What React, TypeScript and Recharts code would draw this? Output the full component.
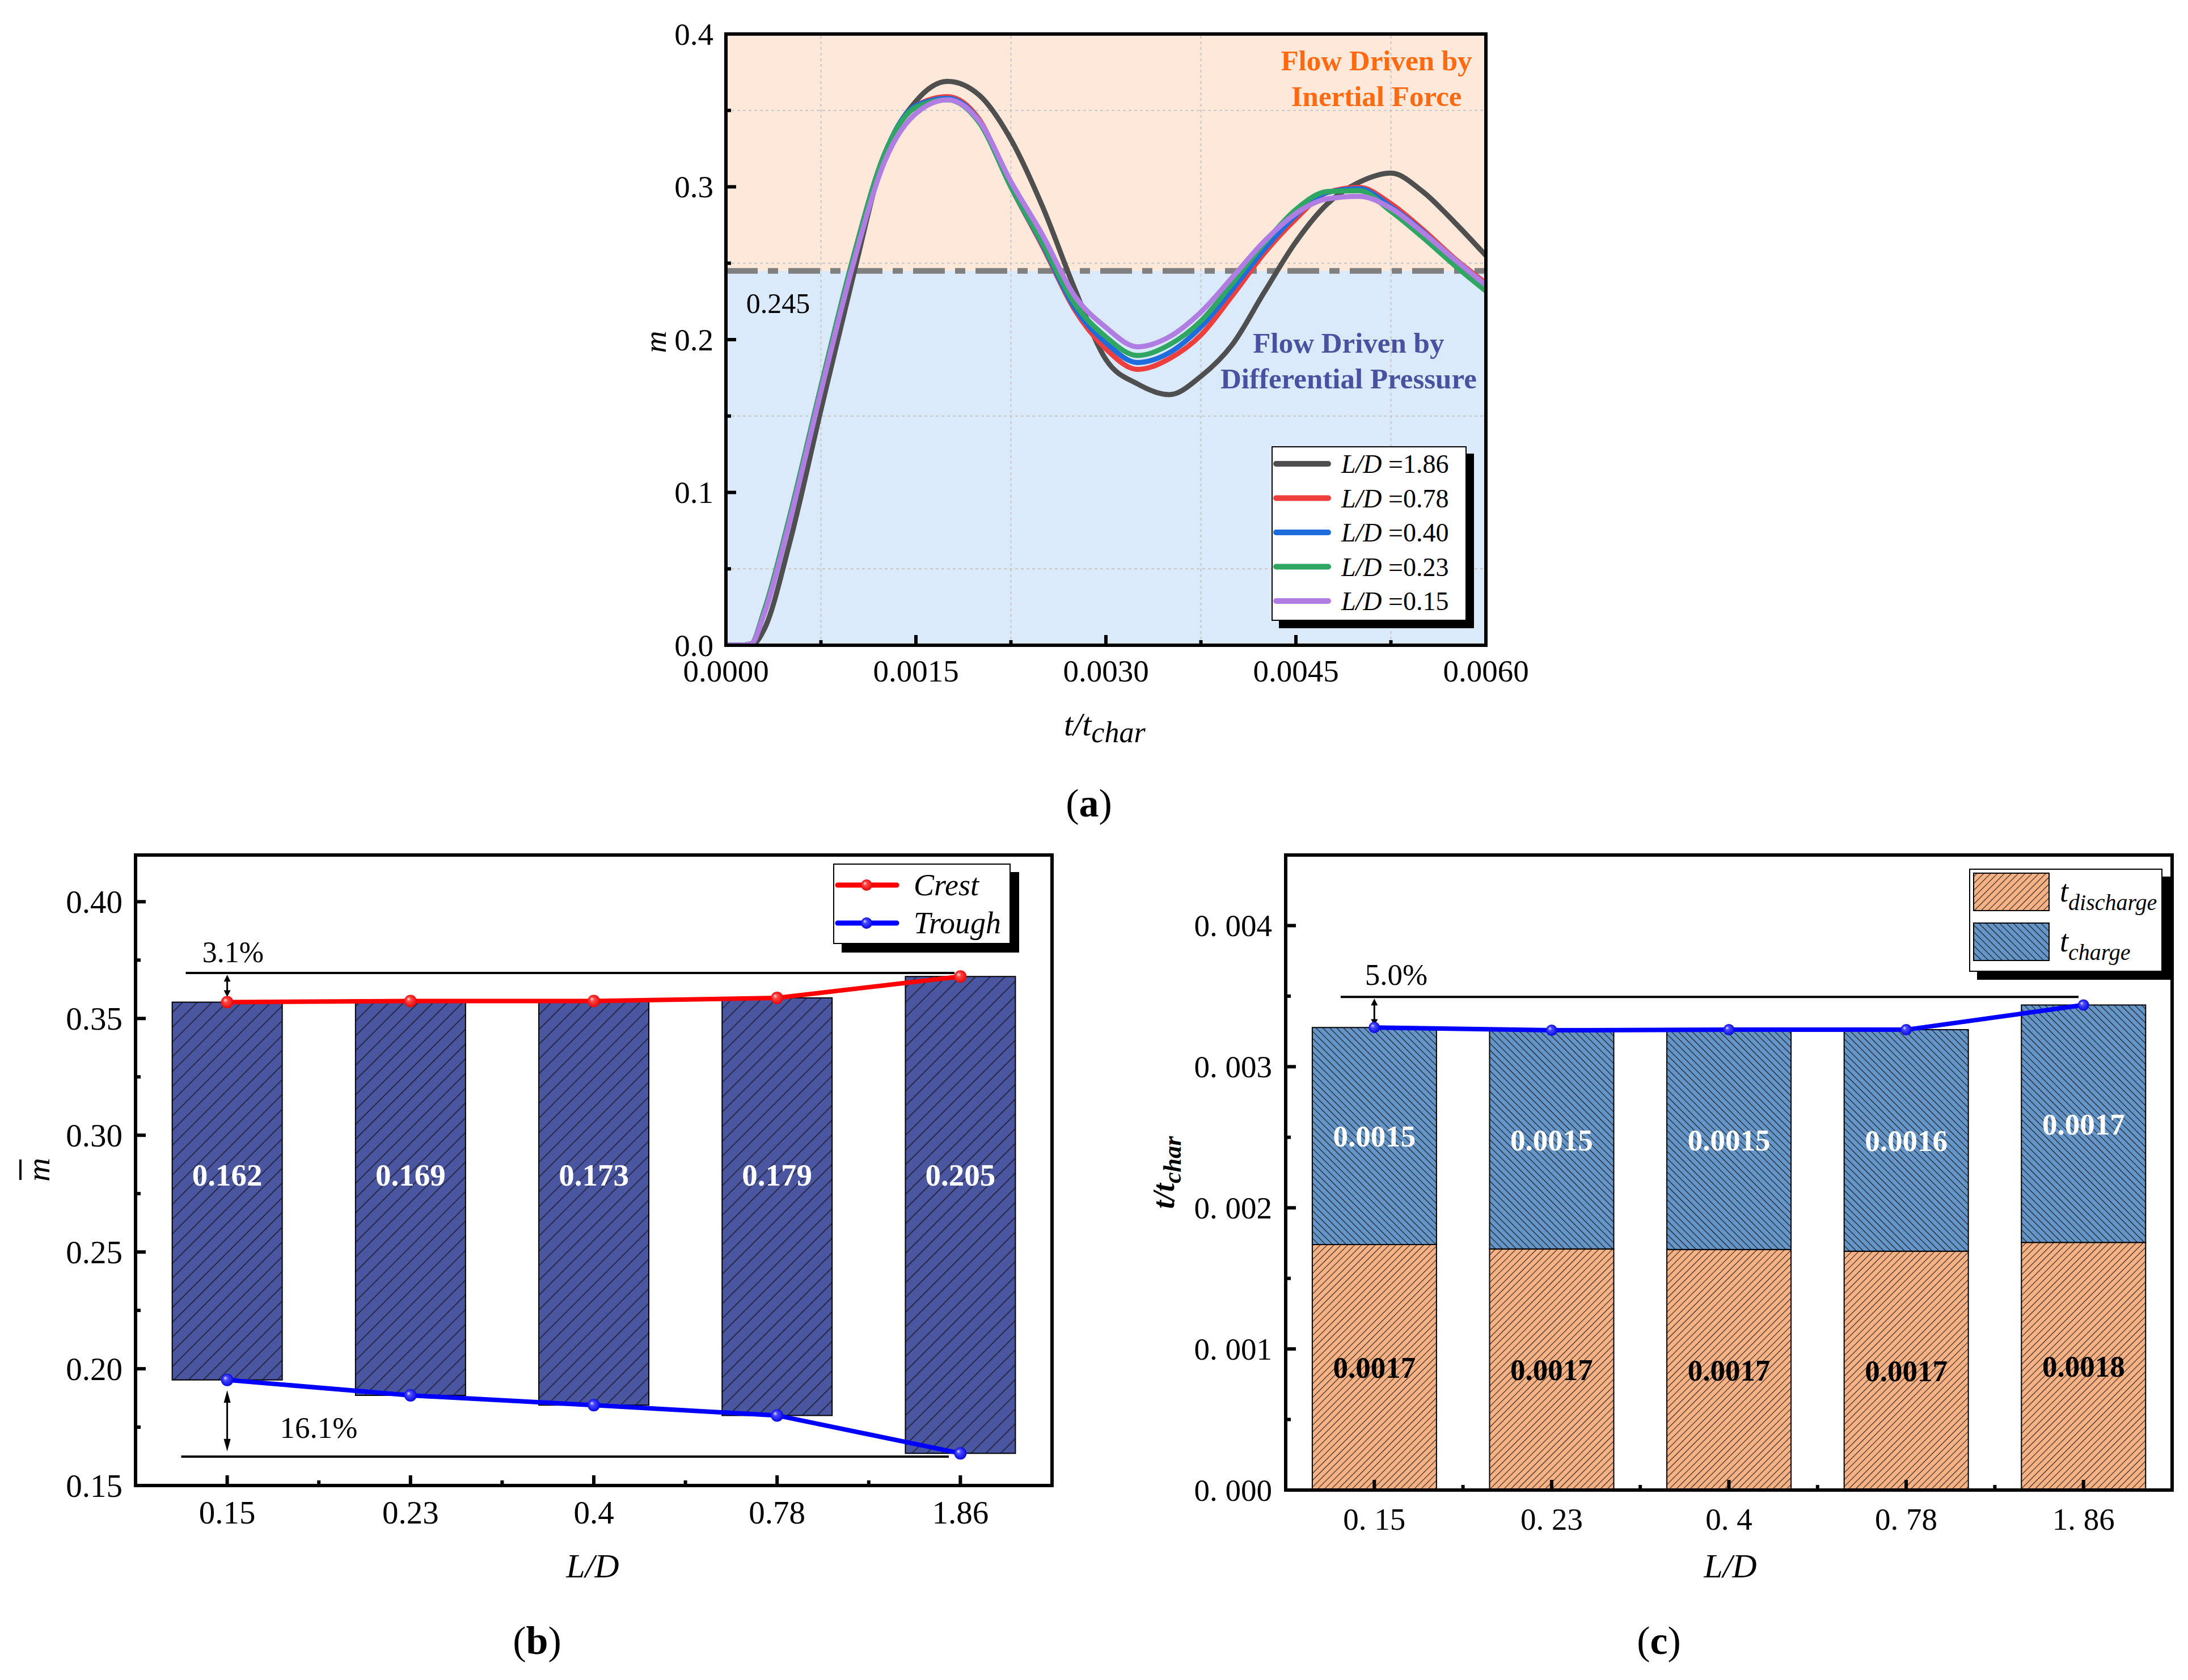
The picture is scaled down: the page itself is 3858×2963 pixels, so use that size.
import React from 'react';
import {
  LineChart, ComposedChart, Line, Bar, XAxis, YAxis, ReferenceArea, ReferenceLine,
  ReferenceDot, Legend, LabelList,
} from 'recharts';

const FONT = '"Liberation Serif", "Times New Roman", Times, serif';
const AX = { stroke: '#000', strokeWidth: 6, strokeLinecap: 'square' as const };

// ---------------- Panel (a) data ----------------
const T_A = [0, 0.0001, 0.0002, 0.0003, 0.0005, 0.00075, 0.001, 0.00125, 0.0015, 0.00175, 0.002, 0.00225, 0.0025, 0.00275, 0.003, 0.00325, 0.0035, 0.00375, 0.004, 0.00425, 0.0045, 0.00475, 0.005, 0.00525, 0.0055, 0.00575, 0.006];
const M_186 = [0, 0, 0, 0.010, 0.066, 0.154, 0.240, 0.320, 0.356, 0.369, 0.360, 0.331, 0.287, 0.234, 0.187, 0.171, 0.164, 0.176, 0.197, 0.231, 0.264, 0.289, 0.303, 0.309, 0.297, 0.277, 0.255];
const M_078 = [0, 0, 0.001, 0.022, 0.083, 0.169, 0.252, 0.321, 0.353, 0.359, 0.344, 0.300, 0.261, 0.220, 0.194, 0.1805, 0.1875, 0.203, 0.229, 0.2565, 0.279, 0.2963, 0.2996, 0.289, 0.2722, 0.2533, 0.237];
const M_040 = [0, 0, 0.001, 0.022, 0.083, 0.169, 0.252, 0.321, 0.353, 0.358, 0.343, 0.300, 0.262, 0.2214, 0.198, 0.185, 0.1914, 0.2083, 0.2331, 0.2591, 0.2813, 0.2963, 0.2988, 0.287, 0.2709, 0.2519, 0.2344];
const M_023 = [0, 0, 0.001, 0.022, 0.083, 0.169, 0.252, 0.321, 0.352, 0.357, 0.342, 0.300, 0.263, 0.224, 0.2018, 0.1896, 0.1966, 0.2122, 0.237, 0.263, 0.2852, 0.2969, 0.2975, 0.284, 0.267, 0.2488, 0.2318];
const M_015 = [0, 0, 0.001, 0.020, 0.080, 0.166, 0.248, 0.316, 0.348, 0.357, 0.343, 0.3034, 0.2684, 0.229, 0.208, 0.1953, 0.2018, 0.218, 0.2409, 0.2643, 0.2826, 0.2922, 0.2938, 0.286, 0.2703, 0.2527, 0.2357];
const SERIES_A = [
  { key: 's186', label: '1.86', color: '#4f4f4f', values: M_186 },
  { key: 's078', label: '0.78', color: '#ef3e3e', values: M_078 },
  { key: 's040', label: '0.40', color: '#1f6ddc', values: M_040 },
  { key: 's023', label: '0.23', color: '#30a663', values: M_023 },
  { key: 's015', label: '0.15', color: '#b07de2', values: M_015 },
];
const X_TICKS_A = [0, 0.00075, 0.0015, 0.00225, 0.003, 0.00375, 0.0045, 0.00525, 0.006];
const Y_TICKS_A = [0, 0.05, 0.1, 0.15, 0.2, 0.25, 0.3, 0.35, 0.4];
const GRID_X_A = [0.00075, 0.00225, 0.00375, 0.00525];
const GRID_Y_A = [0.05, 0.15, 0.25, 0.35];
const THRESHOLD_A = 0.245;

const dataA = T_A.map((t, i) => {
  const row: any = { t };
  SERIES_A.forEach((s) => { row[s.key] = s.values[i]; });
  return row;
});

// ---------------- Panel (b) data ----------------
const LD_CATS = ['0.15', '0.23', '0.4', '0.78', '1.86'];
const CAT_POS = [0, 1, 2, 3, 4];
const CREST = [0.357, 0.3575, 0.3575, 0.3588, 0.368];
const TROUGH = [0.1952, 0.1886, 0.1844, 0.1800, 0.1638];
const BAR_LABELS_B = ['0.162', '0.169', '0.173', '0.179', '0.205'];
const Y_TICKS_B = [0.15, 0.175, 0.2, 0.225, 0.25, 0.275, 0.3, 0.325, 0.35, 0.375, 0.4];
const LABEL_Y_B = 0.283;
const dataB = LD_CATS.map((ld, i) => ({ ld, pos: CAT_POS[i], range: [TROUGH[i], CREST[i]], crest: CREST[i], trough: TROUGH[i], lbl: BAR_LABELS_B[i] }));

// ---------------- Panel (c) data ----------------
const DISCHARGE = [0.00174, 0.001709, 0.001705, 0.001693, 0.001755];
const CHARGE = [0.001538, 0.001549, 0.001557, 0.001569, 0.001682];
const TOTAL = [0.003278, 0.003258, 0.003262, 0.003262, 0.003437];
const DIS_LABELS = ['0.0017', '0.0017', '0.0017', '0.0017', '0.0018'];
const CH_LABELS = ['0.0015', '0.0015', '0.0015', '0.0016', '0.0017'];
const X_LABELS_C = ['0. 15', '0. 23', '0. 4', '0. 78', '1. 86'];
const Y_TICKS_C = [0, 0.0005, 0.001, 0.0015, 0.002, 0.0025, 0.003, 0.0035, 0.004];
const dataC = LD_CATS.map((ld, i) => ({ ld, pos: CAT_POS[i], dis: DISCHARGE[i], ch: CHARGE[i], total: TOTAL[i], disLbl: DIS_LABELS[i], chLbl: CH_LABELS[i] }));

const MINOR_CAT = [0.5, 1.5, 2.5, 3.5];

// ---------------- helpers ----------------
type TickOpts = { major: (i: number) => boolean; text?: (v: any, i: number) => string; fontSize?: number; gap?: number; majorLen?: number; minorLen?: number };
const bottomTick = (o: TickOpts) => (p: any) => {
  const i = p.index ?? 0;
  const isMaj = o.major(i);
  const len = isMaj ? (o.majorLen ?? 18) : (o.minorLen ?? 9);
  return (
    <g>
      <line x1={p.x} x2={p.x} y1={p.y} y2={p.y - len} stroke="#000" strokeWidth={6} />
      {isMaj && o.text ? (
        <text x={p.x} y={p.y + (o.gap ?? 45)} textAnchor="middle" dominantBaseline="central" fontFamily={FONT} fontSize={o.fontSize ?? 55} fill="#000">
          {o.text(p.payload.value, i)}
        </text>
      ) : null}
    </g>
  );
};
const leftTick = (o: TickOpts) => (p: any) => {
  const i = p.index ?? 0;
  const isMaj = o.major(i);
  const len = isMaj ? (o.majorLen ?? 18) : (o.minorLen ?? 9);
  return (
    <g>
      <line x1={p.x} x2={p.x + len} y1={p.y} y2={p.y} stroke="#000" strokeWidth={6} />
      {isMaj && o.text ? (
        <text x={p.x - (o.gap ?? 22)} y={p.y} textAnchor="end" dominantBaseline="central" fontFamily={FONT} fontSize={o.fontSize ?? 55} fill="#000">
          {o.text(p.payload.value, i)}
        </text>
      ) : null}
    </g>
  );
};

const arrowShape = (head: number, half: number) => (p: any) => {
  const { x1, y1, x2, y2 } = p;
  const d = y2 > y1 ? 1 : -1;
  return (
    <g>
      <line x1={x1} y1={y1 + d * head * 0.6} x2={x2} y2={y2 - d * head * 0.6} stroke="#000" strokeWidth={3} />
      <polygon points={`${x1},${y1} ${x1 - half},${y1 + d * head} ${x1 + half},${y1 + d * head}`} fill="#000" />
      <polygon points={`${x2},${y2} ${x2 - half},${y2 - d * head} ${x2 + half},${y2 - d * head}`} fill="#000" />
    </g>
  );
};

const Gradient = ({ id, light, mid, dark }: { id: string; light: string; mid: string; dark: string }) => (
  <radialGradient id={id} cx="50%" cy="50%" r="55%" fx="32%" fy="32%">
    <stop offset="0%" stopColor={light} />
    <stop offset="30%" stopColor={mid} />
    <stop offset="100%" stopColor={dark} />
  </radialGradient>
);

const orderBy = (items: any[], keys: string[]) =>
  items
    .filter((p: any) => p.type !== 'none' && keys.indexOf(String(p.dataKey)) >= 0)
    .sort((a: any, b: any) => keys.indexOf(String(a.dataKey)) - keys.indexOf(String(b.dataKey)));

// ---------------- legends ----------------
const LegendA = (props: any) => {
  const items = orderBy(props.payload || [], SERIES_A.map((s) => s.key));
  return (
    <div style={{ position: 'relative', width: 344, height: 308, boxSizing: 'border-box', border: '2px solid #000', background: '#fff', boxShadow: '13px 13px 0 #000' }}>
      <svg width={340} height={304} style={{ display: 'block' }}>
        {items.map((p: any, i: number) => {
          const cy = 29 + i * 60.5;
          const parts = String(p.value).split(' =');
          return (
            <g key={i}>
              <line x1={6} x2={98} y1={cy} y2={cy} stroke={p.color} strokeWidth={10} strokeLinecap="round" />
              <text x={121} y={cy + 16} fontFamily={FONT} fontSize={46} fill="#000">
                <tspan fontStyle="italic">{parts[0]}</tspan>
                <tspan>{' =' + (parts[1] ?? '')}</tspan>
              </text>
            </g>
          );
        })}
      </svg>
    </div>
  );
};

const LegendB = (props: any) => {
  const items = orderBy(props.payload || [], ['crest', 'trough']);
  return (
    <div style={{ position: 'relative', width: 313, height: 142, boxSizing: 'border-box', border: '2px solid #000', background: '#fff', boxShadow: '15px 15px 0 #000' }}>
      <svg width={309} height={138} style={{ display: 'block' }}>
        {items.map((p: any, i: number) => {
          const cy = 36 + i * 67;
          const grad = p.dataKey === 'crest' ? 'gRedB' : 'gBlueB';
          return (
            <g key={i}>
              <line x1={6} x2={110} y1={cy} y2={cy} stroke={p.color} strokeWidth={9} strokeLinecap="round" />
              <circle cx={57} cy={cy} r={10} fill={`url(#${grad})`} />
              <text x={140} y={cy + 18} fontFamily={FONT} fontStyle="italic" fontSize={54} fill="#000">{p.value}</text>
            </g>
          );
        })}
      </svg>
    </div>
  );
};

const LegendC = (props: any) => {
  const items = orderBy(props.payload || [], ['dis', 'ch']);
  return (
    <div style={{ position: 'relative', width: 341, height: 182, boxSizing: 'border-box', border: '2px solid #000', background: '#fff', boxShadow: '14px 14px 0 #000' }}>
      <svg width={337} height={178} style={{ display: 'block' }}>
        {items.map((p: any, i: number) => {
          const top = 6 + i * 88;
          return (
            <g key={i}>
              <rect x={6} y={top} width={133} height={66} fill={p.color} stroke="#000" strokeWidth={2} />
              <text x={158} y={top + 50} fontFamily={FONT} fontStyle="italic" fill="#000">
                <tspan fontSize={54}>t</tspan>
                <tspan fontSize={40} dy={15}>{p.value}</tspan>
              </text>
            </g>
          );
        })}
      </svg>
    </div>
  );
};

const BarLabelB = (props: any) => {
  const vb = props.viewBox && props.viewBox.width !== undefined ? props.viewBox : props;
  const { x, y, width, height } = vb;
  let i = props.index;
  if (i === undefined || i === null) i = BAR_LABELS_B.indexOf(props.value);
  const top = Math.min(y, y + height);
  const h = Math.abs(height);
  const cy = top + ((CREST[i] - LABEL_Y_B) / (CREST[i] - TROUGH[i])) * h;
  return (
    <text x={x + width / 2} y={cy} textAnchor="middle" dominantBaseline="central" fill="#fff" fontWeight="bold" fontSize={55} fontFamily={FONT}>
      {props.value}
    </text>
  );
};

// ---------------- charts ----------------
const ChartA = () => (
  <LineChart width={1700} height={1350} data={dataA} margin={{ top: 59, right: 159, bottom: 211, left: 199 }}>
    <ReferenceArea y1={THRESHOLD_A} y2={0.4} fill="#fde8d9" fillOpacity={1} stroke="none" />
    <ReferenceArea y1={0} y2={THRESHOLD_A} fill="#dbeafb" fillOpacity={1} stroke="none" />
    {GRID_X_A.map((v) => <ReferenceLine key={'gx' + v} x={v} stroke="#c6c6c6" strokeWidth={2} strokeDasharray="5 5" />)}
    {GRID_Y_A.map((v) => <ReferenceLine key={'gy' + v} y={v} stroke="#c6c6c6" strokeWidth={2} strokeDasharray="5 5" />)}
    <ReferenceLine y={THRESHOLD_A} stroke="#808080" strokeWidth={10} strokeDasharray="56 18 18 18" />
    <ReferenceDot x={0.000412} y={0.2241} r={0} fill="none" stroke="none" label={{ value: '0.245', position: 'center', fontFamily: FONT, fontSize: 50, fill: '#000' }} />
    <ReferenceDot x={0.005136} y={0.3829} r={0} fill="none" stroke="none" label={{ value: 'Flow Driven by', position: 'center', fontFamily: FONT, fontSize: 51, fontWeight: 'bold', fill: '#ff6a10' }} />
    <ReferenceDot x={0.005136} y={0.3596} r={0} fill="none" stroke="none" label={{ value: 'Inertial Force', position: 'center', fontFamily: FONT, fontSize: 51, fontWeight: 'bold', fill: '#ff6a10' }} />
    <ReferenceDot x={0.004916} y={0.1981} r={0} fill="none" stroke="none" label={{ value: 'Flow Driven by', position: 'center', fontFamily: FONT, fontSize: 51, fontWeight: 'bold', fill: '#4852a0' }} />
    <ReferenceDot x={0.004916} y={0.1748} r={0} fill="none" stroke="none" label={{ value: 'Differential Pressure', position: 'center', fontFamily: FONT, fontSize: 51, fontWeight: 'bold', fill: '#4852a0' }} />
    {SERIES_A.map((s) => (
      <Line key={s.key} dataKey={s.key} name={`L/D =${s.label}`} type="monotone" stroke={s.color} strokeWidth={9} dot={false} activeDot={false} isAnimationActive={false} />
    ))}
    <XAxis dataKey="t" type="number" domain={[0, 0.006]} allowDataOverflow ticks={X_TICKS_A} interval={0} height={1} tickSize={0} tickMargin={0} tickLine={false} axisLine={AX}
      tick={bottomTick({ major: (i) => i % 2 === 0, text: (v) => Number(v).toFixed(4), fontSize: 55, gap: 45 })} />
    <XAxis xAxisId="top" dataKey="t" orientation="top" type="number" domain={[0, 0.006]} allowDataOverflow height={1} tick={false} tickLine={false} axisLine={AX} />
    <YAxis type="number" domain={[0, 0.4]} allowDataOverflow ticks={Y_TICKS_A} interval={0} width={1} tickSize={0} tickMargin={0} tickLine={false} axisLine={AX}
      tick={leftTick({ major: (i) => i % 2 === 0, text: (v) => Number(v).toFixed(1), fontSize: 55, gap: 22 })} />
    <YAxis yAxisId="right" orientation="right" type="number" domain={[0, 0.4]} allowDataOverflow width={1} tick={false} tickLine={false} axisLine={AX} />
    <Legend content={LegendA} layout="vertical" align="center" verticalAlign="middle" wrapperStyle={{ left: 1162, top: 787, width: 344, height: 308 }} />
  </LineChart>
);

const ChartB = () => (
  <ComposedChart width={1950} height={1350} data={dataB} margin={{ top: 107, right: 94, bottom: 128, left: 238 }} barCategoryGap="20%">
    <defs>
      <pattern id="hatchB" patternUnits="userSpaceOnUse" width={18.4} height={18.4} patternTransform="rotate(45)">
        <rect width={18.4} height={18.4} fill="#4b56a0" />
        <line x1={9.2} y1={0} x2={9.2} y2={18.4} stroke="#1a1a2a" strokeWidth={1.5} />
      </pattern>
      <Gradient id="gRedB" light="#ffe6e6" mid="#ff4a4a" dark="#e80000" />
      <Gradient id="gBlueB" light="#e6e6ff" mid="#4a4aff" dark="#0000e0" />
    </defs>
    <Bar dataKey="range" fill="url(#hatchB)" stroke="#000" strokeWidth={2} legendType="none" isAnimationActive={false}>
      <LabelList dataKey="lbl" content={BarLabelB} />
    </Bar>
    <ReferenceLine xAxisId="n" segment={[{ x: -0.226, y: 0.3695 }, { x: 3.968, y: 0.3695 }]} stroke="#000" strokeWidth={4} />
    <ReferenceLine xAxisId="n" segment={[{ x: -0.251, y: 0.1624 }, { x: 3.937, y: 0.1624 }]} stroke="#000" strokeWidth={4} />
    <ReferenceLine xAxisId="n" segment={[{ x: 0, y: 0.3687 }, { x: 0, y: 0.3592 }]} stroke="#000" shape={arrowShape(12, 6)} />
    <ReferenceLine xAxisId="n" segment={[{ x: 0, y: 0.1908 }, { x: 0, y: 0.1646 }]} stroke="#000" shape={arrowShape(22, 6)} />
    <ReferenceDot xAxisId="n" x={0.032} y={0.3785} r={0} fill="none" stroke="none" label={{ value: '3.1%', position: 'center', fontFamily: FONT, fontSize: 52, fill: '#000' }} />
    <ReferenceDot xAxisId="n" x={0.4994} y={0.175} r={0} fill="none" stroke="none" label={{ value: '16.1%', position: 'center', fontFamily: FONT, fontSize: 53, fill: '#000' }} />
    <Line dataKey="crest" name="Crest" type="linear" stroke="#ff0000" strokeWidth={8} dot={{ r: 11, fill: 'url(#gRedB)', stroke: 'none' }} activeDot={false} isAnimationActive={false} />
    <Line dataKey="trough" name="Trough" type="linear" stroke="#0000ff" strokeWidth={8} dot={{ r: 11, fill: 'url(#gBlueB)', stroke: 'none' }} activeDot={false} isAnimationActive={false} />
    <XAxis dataKey="ld" type="category" interval={0} height={1} tickSize={0} tickMargin={0} tickLine={false} axisLine={AX}
      tick={bottomTick({ major: () => true, text: (v) => String(v), fontSize: 57, gap: 47 })} />
    <XAxis xAxisId="n" dataKey="pos" type="number" domain={[-0.5, 4.5]} allowDataOverflow ticks={MINOR_CAT} interval={0} height={1} tickSize={0} tickMargin={0} tickLine={false} axisLine={false}
      tick={(p: any) => <line x1={p.x} x2={p.x} y1={p.y - 1} y2={p.y - 10} stroke="#000" strokeWidth={6} />} />
    <XAxis xAxisId="top" dataKey="pos" orientation="top" type="number" domain={[-0.5, 4.5]} allowDataOverflow height={1} tick={false} tickLine={false} axisLine={AX} />
    <YAxis type="number" domain={[0.15, 0.42]} allowDataOverflow ticks={Y_TICKS_B} interval={0} width={1} tickSize={0} tickMargin={0} tickLine={false} axisLine={AX}
      tick={leftTick({ major: (i) => i % 2 === 0, text: (v) => Number(v).toFixed(2), fontSize: 57, gap: 23 })} />
    <YAxis yAxisId="r" orientation="right" type="number" domain={[0.15, 0.42]} allowDataOverflow width={1} tick={false} tickLine={false} axisLine={AX} />
    <Legend content={LegendB} layout="vertical" align="center" verticalAlign="middle" wrapperStyle={{ left: 1469, top: 123, width: 313, height: 142 }} />
  </ComposedChart>
);

const ChartC = () => (
  <ComposedChart width={1908} height={1350} data={dataC} margin={{ top: 107, right: 27, bottom: 120, left: 316 }} barCategoryGap="15%">
    <defs>
      <pattern id="hatchOr" patternUnits="userSpaceOnUse" width={8.6} height={8.6} patternTransform="rotate(45)">
        <rect width={8.6} height={8.6} fill="#f9b283" />
        <line x1={4.3} y1={0} x2={4.3} y2={8.6} stroke="#2a2a2a" strokeWidth={1.2} />
      </pattern>
      <pattern id="hatchBl" patternUnits="userSpaceOnUse" width={8.6} height={8.6} patternTransform="rotate(-45)">
        <rect width={8.6} height={8.6} fill="#6496c9" />
        <line x1={4.3} y1={0} x2={4.3} y2={8.6} stroke="#1a1a1a" strokeWidth={1.2} />
      </pattern>
      <Gradient id="gBlueC" light="#e6e6ff" mid="#4a4aff" dark="#0000e0" />
    </defs>
    <Bar dataKey="dis" stackId="s" name="discharge" fill="url(#hatchOr)" stroke="#000" strokeWidth={2} isAnimationActive={false}>
      <LabelList dataKey="disLbl" position="center" fill="#000" fontWeight="bold" fontSize={53} fontFamily={FONT} />
    </Bar>
    <Bar dataKey="ch" stackId="s" name="charge" fill="url(#hatchBl)" stroke="#000" strokeWidth={2} isAnimationActive={false}>
      <LabelList dataKey="chLbl" position="center" fill="#fff" fontWeight="bold" fontSize={53} fontFamily={FONT} />
    </Bar>
    <ReferenceLine xAxisId="n" segment={[{ x: -0.19, y: 0.003495 }, { x: 3.972, y: 0.003495 }]} stroke="#000" strokeWidth={4} />
    <ReferenceLine xAxisId="n" segment={[{ x: 0, y: 0.003482 }, { x: 0, y: 0.003289 }]} stroke="#000" shape={arrowShape(12, 6)} />
    <ReferenceDot xAxisId="n" x={0.124} y={0.003656} r={0} fill="none" stroke="none" label={{ value: '5.0%', position: 'center', fontFamily: FONT, fontSize: 53, fill: '#000' }} />
    <Line dataKey="total" name="total" legendType="none" type="linear" stroke="#0000ff" strokeWidth={8} dot={{ r: 10, fill: 'url(#gBlueC)', stroke: 'none' }} activeDot={false} isAnimationActive={false} />
    <XAxis dataKey="ld" type="category" interval={0} height={1} tickSize={0} tickMargin={0} tickLine={false} axisLine={AX}
      tick={bottomTick({ major: () => true, text: (_v, i) => X_LABELS_C[i], fontSize: 55, gap: 51 })} />
    <XAxis xAxisId="n" dataKey="pos" type="number" domain={[-0.5, 4.5]} allowDataOverflow ticks={MINOR_CAT} interval={0} height={1} tickSize={0} tickMargin={0} tickLine={false} axisLine={false}
      tick={(p: any) => <line x1={p.x} x2={p.x} y1={p.y - 1} y2={p.y - 10} stroke="#000" strokeWidth={6} />} />
    <XAxis xAxisId="top" dataKey="pos" orientation="top" type="number" domain={[-0.5, 4.5]} allowDataOverflow height={1} tick={false} tickLine={false} axisLine={AX} />
    <YAxis type="number" domain={[0, 0.0045]} allowDataOverflow ticks={Y_TICKS_C} interval={0} width={1} tickSize={0} tickMargin={0} tickLine={false} axisLine={AX}
      tick={leftTick({ major: (i) => i % 2 === 0, text: (v) => Number(v).toFixed(3).replace('.', '. '), fontSize: 55, gap: 24 })} />
    <YAxis yAxisId="r" orientation="right" type="number" domain={[0, 0.0045]} allowDataOverflow width={1} tick={false} tickLine={false} axisLine={AX} />
    <Legend content={LegendC} layout="vertical" align="center" verticalAlign="middle" wrapperStyle={{ left: 1522, top: 132, width: 341, height: 182 }} />
  </ComposedChart>
);

const Titles = () => (
  <svg width={3858} height={2963} style={{ position: 'absolute', left: 0, top: 0, pointerEvents: 'none' }}>
    {/* panel (a) */}
    <text transform="translate(1174,603) rotate(-90)" textAnchor="middle" fontFamily={FONT} fontStyle="italic" fontSize={54} fill="#000">m</text>
    <text x={1876} y={1297} fontFamily={FONT} fontStyle="italic" fontSize={58} fill="#000">t/t<tspan fontSize={52} dy={12}>char</tspan></text>
    <text x={1920} y={1440} textAnchor="middle" fontFamily={FONT} fontSize={70} fill="#000">(<tspan fontWeight="bold">a</tspan>)</text>
    {/* panel (b) */}
    <line x1={36} x2={36} y1={2045} y2={2081} stroke="#000" strokeWidth={4} />
    <text transform="translate(87,2063) rotate(-90)" textAnchor="middle" fontFamily={FONT} fontStyle="italic" fontSize={58} fill="#000">m</text>
    <text x={1045} y={2782} textAnchor="middle" fontFamily={FONT} fontStyle="italic" fontSize={60} fill="#000">L/D</text>
    <text x={947} y={2917} textAnchor="middle" fontFamily={FONT} fontSize={70} fill="#000">(<tspan fontWeight="bold">b</tspan>)</text>
    {/* panel (c) */}
    <text transform="translate(2070,2068) rotate(-90)" textAnchor="middle" fontFamily={FONT} fontStyle="italic" fontWeight="bold" fontSize={54} fill="#000">t/t<tspan fontSize={44} dy={12}>char</tspan></text>
    <text x={3051} y={2782} textAnchor="middle" fontFamily={FONT} fontStyle="italic" fontSize={60} fill="#000">L/D</text>
    <text x={2925} y={2917} textAnchor="middle" fontFamily={FONT} fontSize={70} fill="#000">(<tspan fontWeight="bold">c</tspan>)</text>
  </svg>
);

export default function App() {
  return (
    <div style={{ position: 'absolute', left: 0, top: 0, width: 3858, height: 2963, background: '#fff', overflow: 'hidden', fontFamily: FONT }}>
      <div style={{ position: 'absolute', left: 1080, top: 0 }}><ChartA /></div>
      <div style={{ position: 'absolute', left: 0, top: 1400 }}><ChartB /></div>
      <div style={{ position: 'absolute', left: 1950, top: 1400 }}><ChartC /></div>
      <Titles />
    </div>
  );
}
